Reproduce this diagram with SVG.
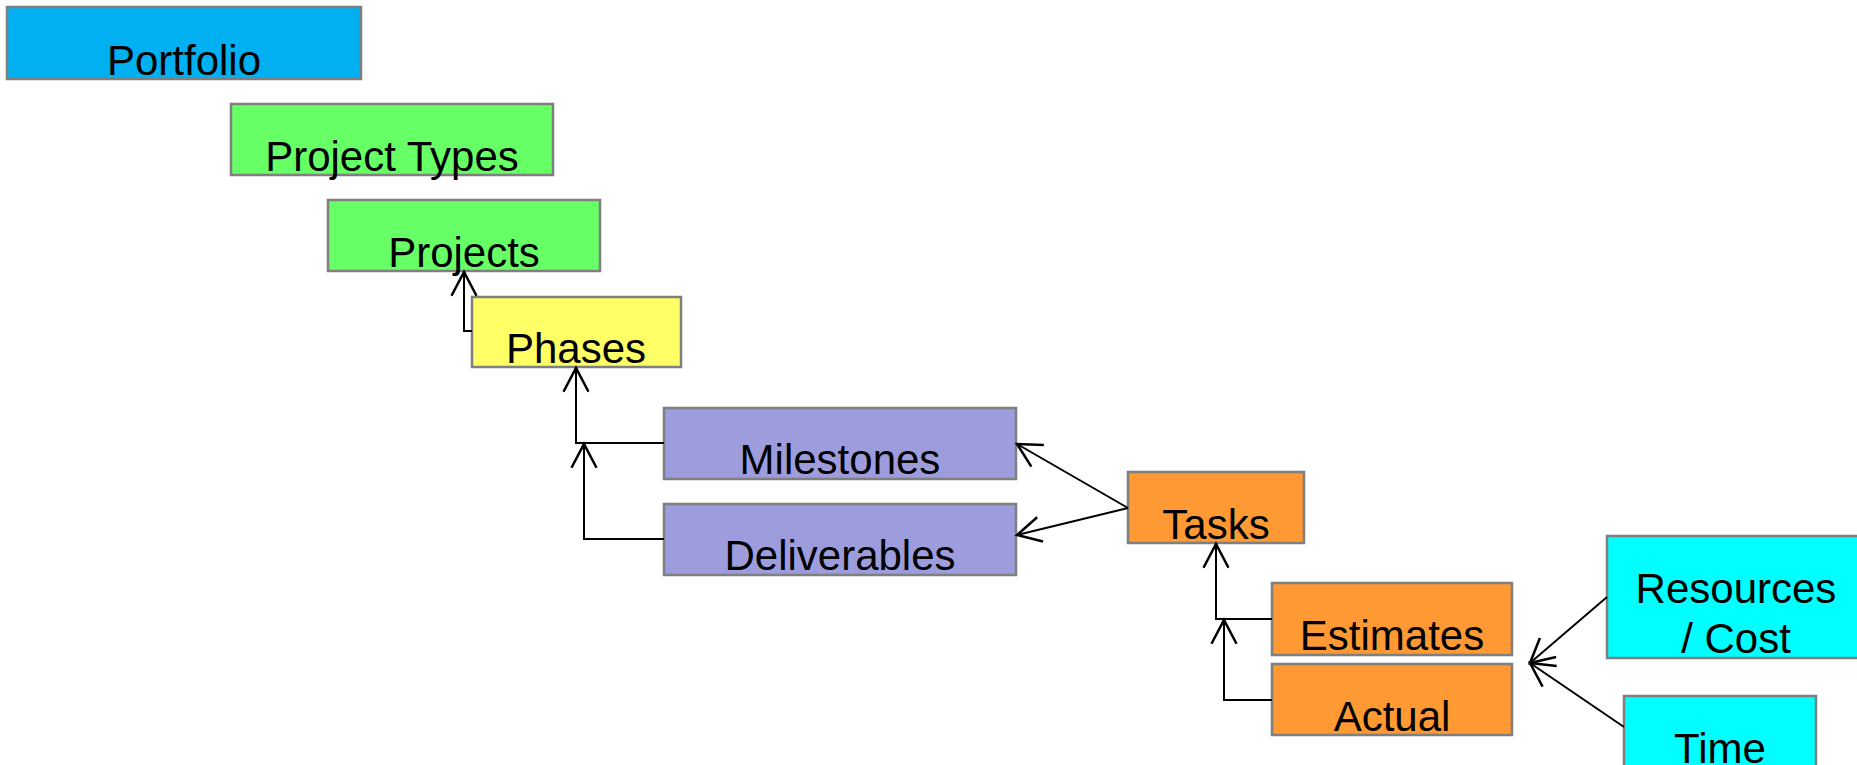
<svg xmlns="http://www.w3.org/2000/svg" width="1857" height="765" viewBox="0 0 1857 765">
<style>
.box{stroke:#7f7f7f;stroke-width:2.5}
.lbl{font-family:"Liberation Sans",Arial,sans-serif;font-size:42px;fill:#000;text-anchor:middle}
.blue{fill:#00b0f0}.green{fill:#66ff66}.yellow{fill:#ffff66}.purple{fill:#9d9ddd}.orange{fill:#ff9933}.cyan{fill:#00ffff}
.conn{fill:none;stroke:#000;stroke-width:2;marker-end:url(#arr)}
</style>
<defs>
<marker id="arr" markerUnits="userSpaceOnUse" markerWidth="30" markerHeight="30" viewBox="-22 -12 24 24" refX="0" refY="0" orient="auto" overflow="visible">
<path d="M -19 -10 L 0 0 L -19 10" fill="none" stroke="#000" stroke-width="2"/>
</marker>
</defs>
<rect width="1857" height="765" fill="#fff"/>
<g id="portfolio"><rect class="box blue" x="7" y="7" width="354" height="72"/><text class="lbl" x="184" y="75">Portfolio</text></g>
<g id="project-types"><rect class="box green" x="231" y="104" width="322" height="71"/><text class="lbl" x="392" y="171">Project Types</text></g>
<g id="projects"><rect class="box green" x="328" y="200" width="272" height="71"/><text class="lbl" x="464" y="267">Projects</text></g>
<g id="phases"><rect class="box yellow" x="472" y="297" width="209" height="70"/><text class="lbl" x="576" y="363">Phases</text></g>
<g id="milestones"><rect class="box purple" x="664" y="408" width="352" height="71"/><text class="lbl" x="840" y="474">Milestones</text></g>
<g id="deliverables"><rect class="box purple" x="664" y="504" width="352" height="71"/><text class="lbl" x="840" y="570">Deliverables</text></g>
<g id="tasks"><rect class="box orange" x="1128" y="472" width="176" height="71"/><text class="lbl" x="1216" y="539">Tasks</text></g>
<g id="estimates"><rect class="box orange" x="1272" y="583" width="240" height="72"/><text class="lbl" x="1392" y="650">Estimates</text></g>
<g id="actual"><rect class="box orange" x="1272" y="664" width="240" height="71"/><text class="lbl" x="1392" y="731">Actual</text></g>
<g id="resources-cost"><rect class="box cyan" x="1607" y="536" width="270" height="122"/><text class="lbl" x="1736" y="603">Resources</text><text class="lbl" x="1736" y="653">/ Cost</text></g>
<g id="time"><rect class="box cyan" x="1624" y="696" width="192" height="90"/><text class="lbl" x="1720" y="763">Time</text></g>
<g id="connectors">
<path class="conn" d="M 472 331 H 464 V 272"/>
<path class="conn" d="M 664 443 H 576 V 368"/>
<path class="conn" d="M 664 539 H 584 V 444"/>
<path class="conn" d="M 1128 508 L 1017 444"/>
<path class="conn" d="M 1128 508 L 1017 535"/>
<path class="conn" d="M 1272 619 H 1216 V 544"/>
<path class="conn" d="M 1272 700 H 1224 V 620"/>
<path class="conn" d="M 1607 597 L 1530 663"/>
<path class="conn" d="M 1624 727 L 1530 663"/>
</g>
</svg>
